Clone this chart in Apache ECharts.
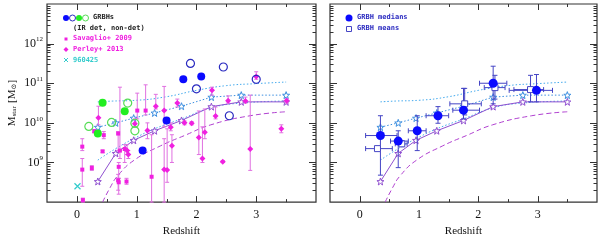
<!DOCTYPE html>
<html><head><meta charset="utf-8">
<script src="https://cdn.jsdelivr.net/npm/echarts@6/dist/echarts.min.js"></script>
<style>html,body{margin:0;padding:0;background:#fff}#c{width:600px;height:242px}</style>
</head><body><div id="c"></div>
<script>
// ---------- DATA (stellar masses as log10(M/Msun)) ----------
var xTickLabels = [0, 1, 2, 3];
var yTickLabels = [9, 10, 11, 12];

// GRB hosts (left panel)
var grbBlueDetZ = [1.78, 2.08, 1.10, 1.50];
var grbBlueDetM = [11.10, 11.17, 9.30, 10.06];
var grbBlueNonZ = [1.90, 2.45, 2.00, 3.00, 2.55];
var grbBlueNonM = [11.50, 11.41, 10.86, 11.10, 10.18];
var grbGreenDetZ = [0.43, 0.80, 0.35];
var grbGreenDetM = [10.51, 10.29, 9.73];
var grbGreenNonZ = [0.85, 0.20, 0.58, 0.97, 0.97];
var grbGreenNonM = [10.50, 9.91, 10.01, 9.99, 9.80];

// Savaglio+ 2009: z, logM, lower, upper
var savZ  = [0.09, 0.09, 0.25, 0.29, 0.43, 0.45, 0.69, 0.70, 0.69, 0.70, 0.83, 0.80, 1.01, 1.15, 1.25, 0.72, 0.10];
var savM  = [9.40, 8.82, 8.86, 9.79, 9.28, 9.69, 9.73, 8.89, 8.55, 8.50, 8.52, 9.34, 10.31, 10.31, 8.64, 9.30, 8.05];
var savLo = [9.30, 8.40, 8.80, 9.75, 9.25, 9.60, 9.30, 8.60, 8.30, 8.20, 8.45, 9.00, 10.10, 10.20, 8.00, 9.10, 8.00];
var savHi = [9.60, 9.10, 8.92, 9.83, 9.31, 9.78, 9.78, 9.00, 8.70, 8.60, 8.60, 9.45, 10.75, 10.96, 9.70, 10.90, 8.10];

// Perley+ 2013: z, logM, lower, upper
var perZ  = [0.36, 0.84, 0.86, 0.97, 1.18, 1.32, 1.46, 1.46, 1.51, 1.57, 1.59, 1.68, 1.80, 1.92, 2.04, 2.14, 2.10, 2.26, 2.32, 2.44, 2.53, 2.82, 2.90, 3.00, 3.42, 3.51];
var perM  = [10.13, 9.30, 9.20, 9.98, 9.81, 10.42, 10.31, 8.82, 8.81, 9.89, 9.42, 10.50, 10.00, 9.99, 9.63, 9.76, 9.10, 10.82, 10.17, 9.02, 10.56, 10.55, 9.34, 11.17, 9.85, 10.56];
var perLo = [9.95, 9.20, 9.10, 9.90, 9.60, 10.35, 9.90, 8.00, 8.50, 9.80, 9.00, 10.40, 9.95, 9.95, 9.20, 9.60, 9.00, 10.70, 10.10, 9.00, 10.50, 10.50, 8.80, 11.10, 9.75, 10.50];
var perHi = [10.42, 9.45, 9.30, 10.10, 10.00, 10.72, 10.92, 9.60, 9.85, 10.00, 9.70, 10.60, 10.05, 10.03, 10.30, 10.35, 9.90, 10.90, 10.40, 9.05, 10.68, 10.65, 10.70, 11.29, 9.95, 10.60];

// GRB 960425
var grb960425Z = [0.01];
var grb960425M = [8.40];

// Model curves
var modelZ   = [0.35, 0.65, 0.95, 1.30, 1.75, 2.25, 2.75, 3.50];
var modelMid = [9.89, 10.00, 10.12, 10.25, 10.42, 10.65, 10.70, 10.70];
var modelSolid = [8.52, 9.23, 9.56, 9.80, 10.06, 10.41, 10.53, 10.53];
var modelLow = [9.06, 9.35, 9.60, 9.85, 10.10, 10.38, 10.50, 10.55];
var topZ = [0.35, 0.60, 1.00, 1.50, 2.00, 2.50, 3.00, 3.50];
var modelTop = [10.53, 10.55, 10.57, 10.66, 10.82, 10.94, 10.99, 11.03];
var dashZ = [0.43, 0.55, 0.68, 0.96, 1.40, 1.80, 2.24, 2.90, 3.50];
var modelDash = [8.00, 8.35, 8.66, 9.06, 9.42, 9.68, 9.95, 10.18, 10.28];

// Right panel: GRBH medians and means (z, logM, zLo, zHi, mLo, mHi)
var medZ  = [0.35, 0.65, 0.97, 1.32, 1.75, 2.25, 2.98];
var medM  = [9.68, 9.54, 9.80, 10.18, 10.32, 11.00, 10.82];
var medZlo = [0.10, 0.52, 0.82, 1.12, 1.57, 2.02, 2.52];
var medZhi = [0.63, 0.82, 1.12, 1.50, 2.02, 2.48, 3.25];
var medMlo = [8.68, 8.87, 9.30, 9.99, 10.10, 10.48, 10.53];
var medMhi = [10.18, 9.80, 10.18, 10.41, 10.87, 11.43, 11.22];
var meanZ  = [0.30, 0.71, 1.77, 2.28, 2.88];
var meanM  = [9.35, 9.47, 10.48, 10.89, 10.84];
var meanZlo = [0.10, 0.60, 1.52, 2.10, 2.60];
var meanZhi = [0.55, 0.80, 2.05, 2.45, 3.10];
var meanMlo = [9.30, 9.40, 10.20, 10.60, 10.53];
var meanMhi = [9.40, 9.55, 10.87, 11.20, 11.20];

// ---------- helpers ----------
function zip() { var a = arguments; return a[0].map(function (_, i) { return Array.prototype.map.call(a, function (arr) { return arr[i]; }); }); }
var C = {
  blue: '#0a0aff', blueOpen: '#2a2ac0', green: '#22ee22', greenOpen: '#55dd55',
  mag: '#f020e0', magBar: '#e070e0', cyan: '#33cccc',
  ltBlue: '#44aaee', midBlue: '#3d8fe0', purple: '#9050d0', dash: '#b040d0',
  axis: '#333', err: '#4545c5'
};
var STAR = 'path://M0,-10L2.4,-3.3L9.5,-3.1L3.9,1.3L5.9,8.1L0,4L-5.9,8.1L-3.9,1.3L-9.5,-3.1L-2.4,-3.3Z';
var X_MIN = -0.5, X_MAX = 4, Y_MIN = 8, Y_MAX = 13;

function axisTicksSeries(gi) {
  return {
    type: 'custom', xAxisIndex: gi, yAxisIndex: gi, silent: true, clip: false, z: 10,
    data: [[0, 10]],
    renderItem: function (params, api) {
      var cs = params.coordSys, ch = [], st = { stroke: C.axis, lineWidth: 1 };
      var bot = cs.y + cs.height, top = cs.y, lft = cs.x, rgt = cs.x + cs.width;
      for (var v = X_MIN + 0.5; v < X_MAX; v += 0.5) {
        var x = Math.round(api.coord([v, 10])[0]) + 0.5;
        var len = (Math.abs(v - Math.round(v)) < 1e-6) ? 6 : 3;
        ch.push({ type: 'line', shape: { x1: x, y1: bot, x2: x, y2: bot - len }, style: st });
        ch.push({ type: 'line', shape: { x1: x, y1: top, x2: x, y2: top + len }, style: st });
      }
      for (var d = Y_MIN; d < Y_MAX; d++) {
        for (var k = 1; k <= 9; k++) {
          var lv = d + Math.log10(k);
          if (lv <= Y_MIN + 1e-6 || lv >= Y_MAX) continue;
          var y = Math.round(api.coord([0, lv])[1]) + 0.5;
          var L = (k === 1) ? 7 : 3.5;
          ch.push({ type: 'line', shape: { x1: lft, y1: y, x2: lft + L, y2: y }, style: st });
          ch.push({ type: 'line', shape: { x1: rgt, y1: y, x2: rgt - L, y2: y }, style: st });
        }
      }
      return { type: 'group', children: ch };
    }
  };
}

function vErrSeries(gi, data, color) {
  return {
    type: 'custom', xAxisIndex: gi, yAxisIndex: gi, silent: true, z: 2,
    data: data,
    renderItem: function (params, api) {
      var lo = api.coord([api.value(0), api.value(2)]);
      var hi = api.coord([api.value(0), api.value(3)]);
      var st = { stroke: color, lineWidth: 1 };
      return { type: 'group', children: [
        { type: 'line', shape: { x1: lo[0], y1: lo[1], x2: hi[0], y2: hi[1] }, style: st },
        { type: 'line', shape: { x1: lo[0] - 2, y1: lo[1], x2: lo[0] + 2, y2: lo[1] }, style: st },
        { type: 'line', shape: { x1: hi[0] - 2, y1: hi[1], x2: hi[0] + 2, y2: hi[1] }, style: st }
      ]};
    }
  };
}

function xyErrSeries(gi, data, color) {
  return {
    type: 'custom', xAxisIndex: gi, yAxisIndex: gi, silent: true, z: 3,
    data: data,
    renderItem: function (params, api) {
      var z = api.value(0), m = api.value(1);
      var l = api.coord([api.value(2), m]), r = api.coord([api.value(3), m]);
      var b = api.coord([z, api.value(4)]), t = api.coord([z, api.value(5)]);
      var st = { stroke: color, lineWidth: 1 };
      return { type: 'group', children: [
        { type: 'line', shape: { x1: l[0], y1: l[1], x2: r[0], y2: r[1] }, style: st },
        { type: 'line', shape: { x1: l[0], y1: l[1] - 2.5, x2: l[0], y2: l[1] + 2.5 }, style: st },
        { type: 'line', shape: { x1: r[0], y1: r[1] - 2.5, x2: r[0], y2: r[1] + 2.5 }, style: st },
        { type: 'line', shape: { x1: b[0], y1: b[1], x2: t[0], y2: t[1] }, style: st },
        { type: 'line', shape: { x1: b[0] - 2.5, y1: b[1], x2: b[0] + 2.5, y2: b[1] }, style: st },
        { type: 'line', shape: { x1: t[0] - 2.5, y1: t[1], x2: t[0] + 2.5, y2: t[1] }, style: st }
      ]};
    }
  };
}

function modelSeries(gi) {
  return [
    { type: 'line', xAxisIndex: gi, yAxisIndex: gi, data: zip(topZ, modelTop), smooth: true, symbol: 'none', silent: true,
      lineStyle: { color: C.ltBlue, width: 1, type: [1.5, 2] }, z: 1 },
    { type: 'line', xAxisIndex: gi, yAxisIndex: gi, data: zip(modelZ, modelLow), smooth: true, symbol: 'none', silent: true,
      lineStyle: { color: C.ltBlue, width: 1, type: [1.5, 2] }, z: 1 },
    { type: 'line', xAxisIndex: gi, yAxisIndex: gi, data: zip(modelZ, modelMid), symbol: STAR, symbolSize: 7, silent: true,
      lineStyle: { color: C.midBlue, width: 1, type: [1.5, 2] }, itemStyle: { color: '#fff', borderColor: C.midBlue, borderWidth: 1 }, z: 1 },
    { type: 'line', xAxisIndex: gi, yAxisIndex: gi, data: zip(modelZ, modelSolid), symbol: STAR, symbolSize: 7, silent: true,
      lineStyle: { color: C.purple, width: 1 }, itemStyle: { color: '#fff', borderColor: C.purple, borderWidth: 1 }, z: 1 },
    { type: 'line', xAxisIndex: gi, yAxisIndex: gi, data: zip(dashZ, modelDash), smooth: true, symbol: 'none', silent: true,
      lineStyle: { color: C.dash, width: 1, type: [5, 3] }, z: 1 }
  ];
}

function sc(gi, data, symbol, size, fill, stroke, bw, z) {
  return { type: 'scatter', xAxisIndex: gi, yAxisIndex: gi, data: data, symbol: symbol, symbolSize: size, silent: true, z: z || 5,
    itemStyle: { color: fill, borderColor: stroke, borderWidth: bw, opacity: 1 } };
}

var serif = '"Liberation Serif", "DejaVu Serif", serif';
var mono = '"DejaVu Sans Mono", "Liberation Mono", monospace';

function xAx(gi) {
  return { type: 'value', gridIndex: gi, min: X_MIN, max: X_MAX, interval: 0.5,
    axisLine: { show: false }, axisTick: { show: false }, splitLine: { show: false },
    axisLabel: { margin: 7, color: '#111', fontFamily: serif, fontSize: 12,
      formatter: function (v) { return xTickLabels.indexOf(v) >= 0 ? String(v) : ''; } },
    name: 'Redshift', nameLocation: 'middle', nameGap: 17,
    nameTextStyle: { fontFamily: serif, fontSize: 11, color: '#111' } };
}
function yAx(gi, labels) {
  return { type: 'value', gridIndex: gi, min: Y_MIN, max: Y_MAX, interval: 1,
    axisLine: { show: false }, axisTick: { show: false }, splitLine: { show: false },
    axisLabel: { show: labels, margin: 4, color: '#111',
      formatter: function (v) { return yTickLabels.indexOf(v) >= 0 ? '{b|10}{s|' + v + '}' : ''; },
      rich: { b: { fontFamily: serif, fontSize: 12, color: '#111' },
              s: { fontFamily: serif, fontSize: 7, color: '#111', padding: [0, 0, 8, 0] } } },
    name: labels ? '{m|M}{sub|star} {m|[M}{sub|\u2299}{m|]}' : '', nameLocation: 'middle', nameGap: 29,
    nameTextStyle: { rich: { m: { fontFamily: serif, fontSize: 11, color: '#111' },
                              sub: { fontFamily: serif, fontSize: 7, color: '#111', padding: [0, 0, -4, 0] } } } };
}

var series = [axisTicksSeries(0), axisTicksSeries(1)]
  .concat(modelSeries(0)).concat(modelSeries(1))
  .concat([
    vErrSeries(0, zip(savZ, savM, savLo, savHi), C.magBar),
    vErrSeries(0, zip(perZ, perM, perLo, perHi), C.magBar),
    sc(0, zip(savZ, savM), 'rect', 4, C.mag, C.mag, 0, 4),
    sc(0, zip(perZ, perM), 'diamond', 6, C.mag, C.mag, 0, 4),
    sc(0, zip(grb960425Z, grb960425M), 'path://M-1,-1L1,1M1,-1L-1,1', 6, 'none', C.cyan, 1.2, 4),
    sc(0, zip(grbGreenNonZ, grbGreenNonM), 'circle', 8, 'rgba(255,255,255,0)', C.greenOpen, 1.2, 6),
    sc(0, zip(grbGreenDetZ, grbGreenDetM), 'circle', 8, C.green, C.green, 0, 6),
    sc(0, zip(grbBlueNonZ, grbBlueNonM), 'circle', 8, 'rgba(255,255,255,0)', C.blueOpen, 1.2, 6),
    sc(0, zip(grbBlueDetZ, grbBlueDetM), 'circle', 8, C.blue, C.blue, 0, 6),
    xyErrSeries(1, zip(meanZ, meanM, meanZlo, meanZhi, meanMlo, meanMhi), C.err),
    xyErrSeries(1, zip(medZ, medM, medZlo, medZhi, medMlo, medMhi), C.err),
    sc(1, zip(meanZ, meanM), 'rect', 6, '#fff', C.err, 1, 5),
    sc(1, zip(medZ, medM), 'circle', 9, C.blue, C.blue, 0, 6)
  ]);

var lgText = function (x, y, t, col) {
  return { type: 'text', left: x, top: y, silent: true,
    style: { text: t, fill: col, font: 'bold 7px ' + mono } };
};
var graphic = [
  { type: 'circle', shape: { cx: 66, cy: 18, r: 3 }, style: { fill: C.blue } },
  { type: 'circle', shape: { cx: 72.5, cy: 18, r: 3 }, style: { fill: '#fff', stroke: C.blueOpen, lineWidth: 1 } },
  { type: 'circle', shape: { cx: 79, cy: 18, r: 3 }, style: { fill: C.green } },
  { type: 'circle', shape: { cx: 85.5, cy: 18, r: 3 }, style: { fill: '#fff', stroke: C.greenOpen, lineWidth: 1 } },
  lgText(93, 14, 'GRBHs', '#222'),
  lgText(73, 25, '(IR det, non-det)', '#222'),
  { type: 'rect', shape: { x: 64.5, y: 37.5, width: 3, height: 3 }, style: { fill: C.mag } },
  lgText(73, 35, 'Savaglio+ 2009', C.mag),
  { type: 'polygon', shape: { points: [[66, 47], [68.5, 49.5], [66, 52], [63.5, 49.5]] }, style: { fill: C.mag } },
  lgText(73, 46, 'Perley+ 2013', C.mag),
  { type: 'polyline', shape: { points: [[64, 58], [68, 62]] }, style: { stroke: C.cyan, lineWidth: 1 } },
  { type: 'polyline', shape: { points: [[68, 58], [64, 62]] }, style: { stroke: C.cyan, lineWidth: 1 } },
  lgText(73, 57, '960425', C.cyan),
  { type: 'circle', shape: { cx: 349, cy: 18, r: 3.5 }, style: { fill: C.blue } },
  lgText(357, 14, 'GRBH medians', '#2a2ac0'),
  { type: 'rect', shape: { x: 346.5, y: 26.5, width: 5, height: 5 }, style: { fill: '#fff', stroke: C.err, lineWidth: 1 } },
  lgText(357, 25, 'GRBH means', '#2a2ac0')
];

var chart = echarts.init(document.getElementById('c'), null, { renderer: 'canvas' });
chart.setOption({
  animation: false,
  backgroundColor: '#fff',
  grid: [
    { left: 47, top: 4, width: 269, height: 211, show: true, borderColor: C.axis, borderWidth: 1.2, backgroundColor: 'transparent' },
    { left: 330, top: 4, width: 269, height: 211, show: true, borderColor: C.axis, borderWidth: 1.2, backgroundColor: 'transparent' }
  ],
  xAxis: [xAx(0), xAx(1)],
  yAxis: [yAx(0, true), yAx(1, false)],
  series: series,
  graphic: graphic
});
</script></body></html>
